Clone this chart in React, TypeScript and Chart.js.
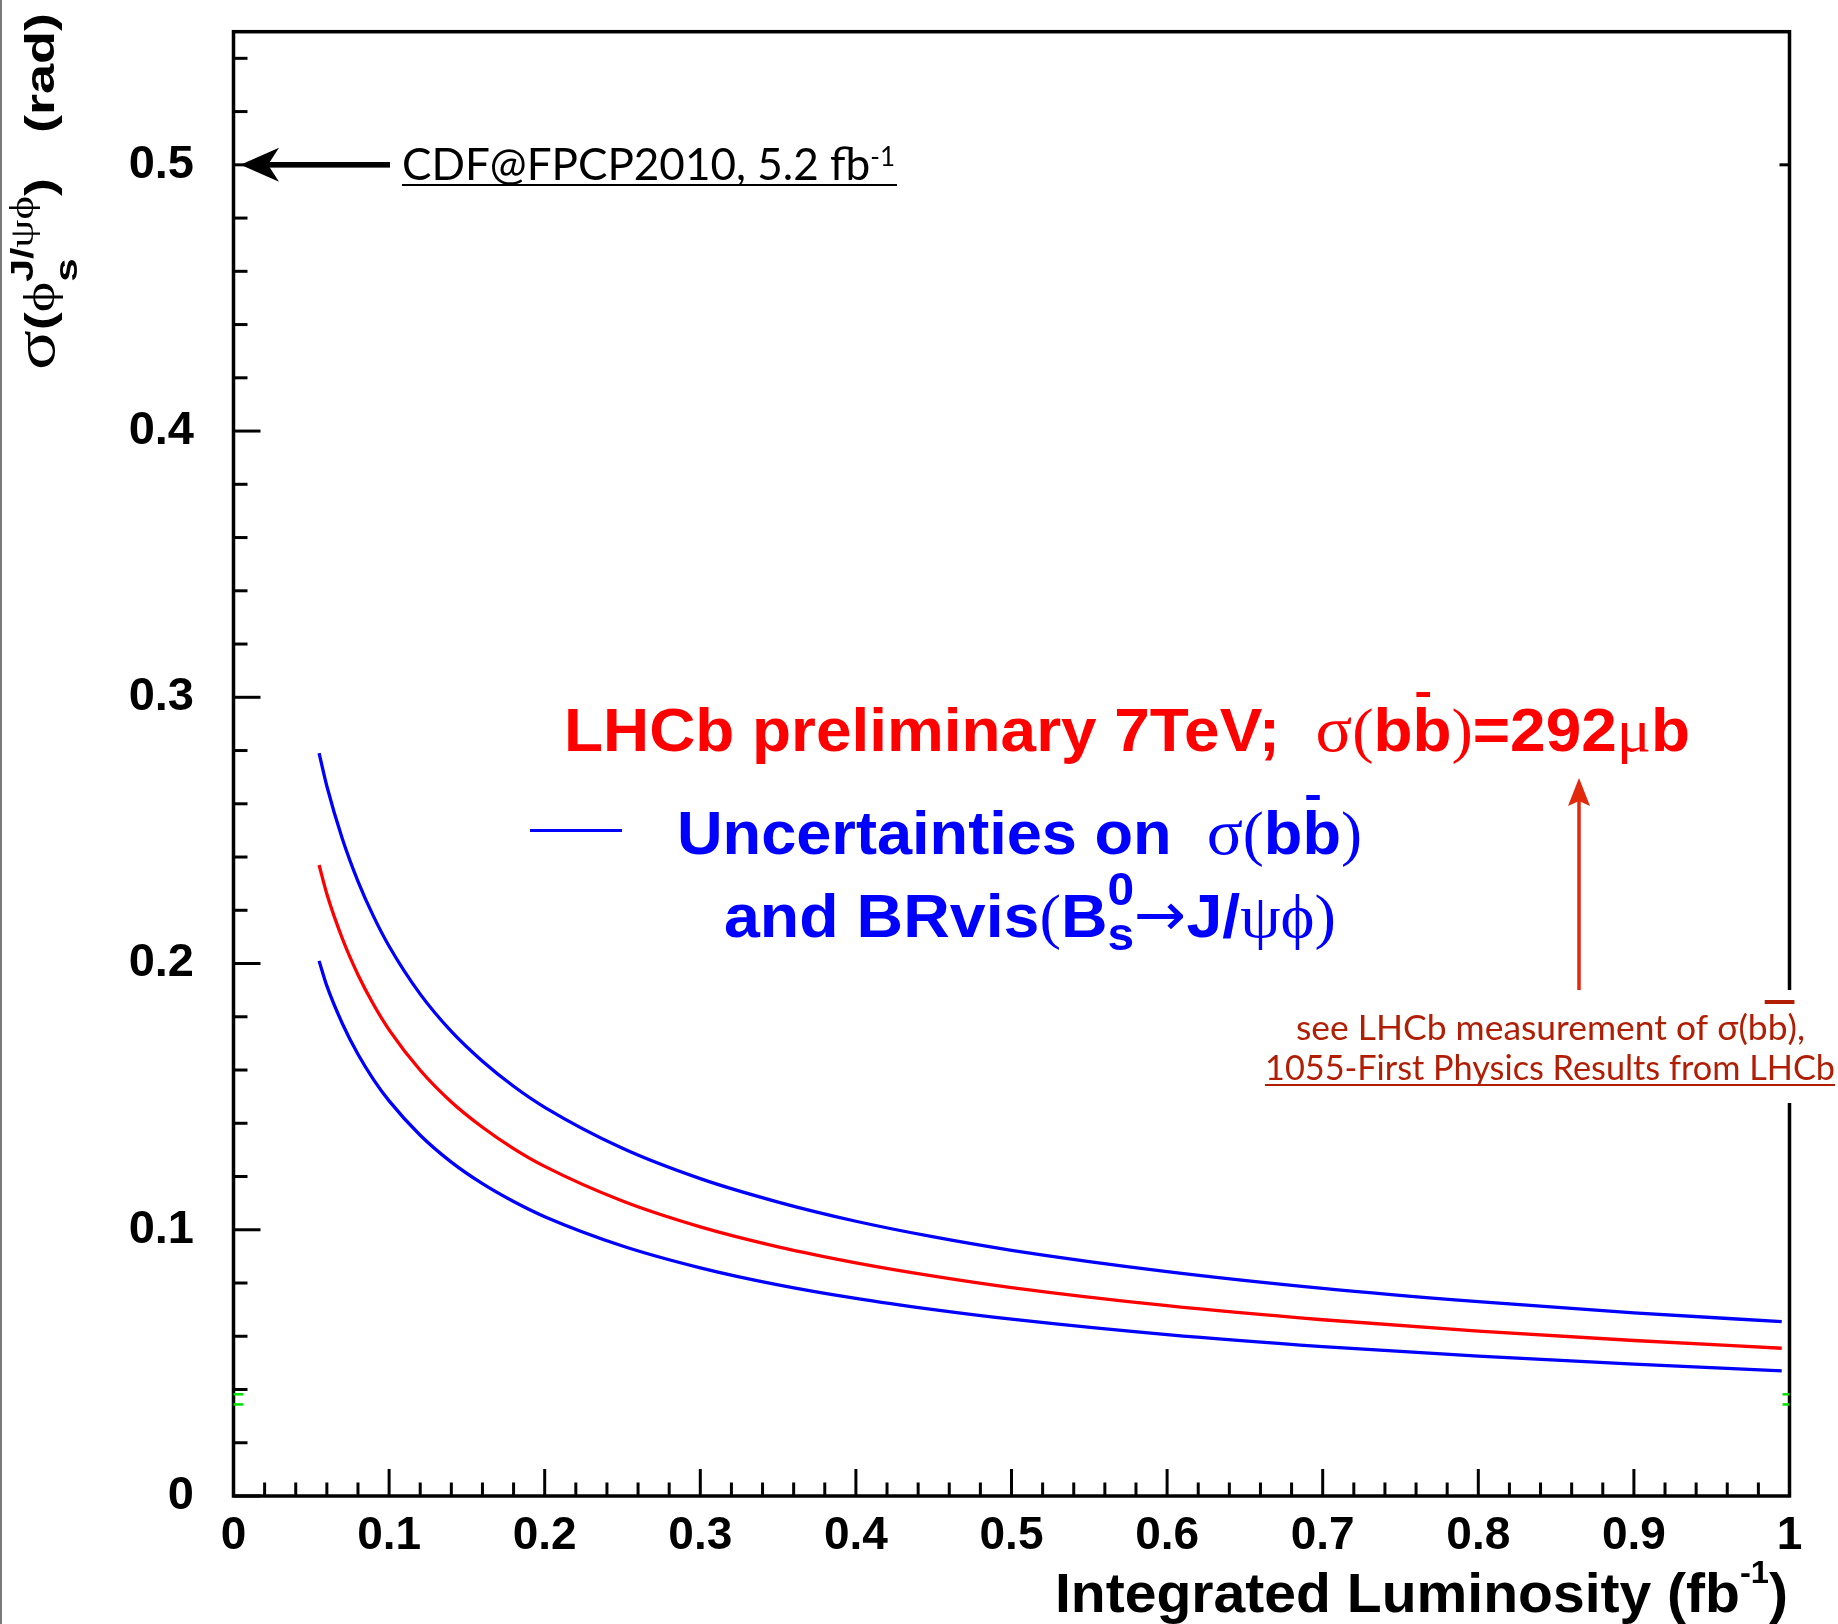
import React, { useEffect, useRef } from "react";
import { Chart, registerables } from "chart.js";

Chart.register(...registerables);

// ---------- data ----------
const luminosity = [0.055, 0.06, 0.07, 0.08, 0.09, 0.1, 0.12, 0.14, 0.16, 0.18, 0.2, 0.25, 0.3, 0.35, 0.4, 0.45, 0.5, 0.6, 0.7, 0.8, 0.9, 0.995];
const sigmaUpper = [0.279, 0.2666, 0.2468, 0.2309, 0.2177, 0.2065, 0.1885, 0.1745, 0.1633, 0.1539, 0.146, 0.1306, 0.1192, 0.1104, 0.1032, 0.0973, 0.0923, 0.0843, 0.078, 0.073, 0.0688, 0.0655];
const sigmaCentral = [0.237, 0.2261, 0.2093, 0.1958, 0.1846, 0.1751, 0.1599, 0.148, 0.1385, 0.1305, 0.1238, 0.1108, 0.1011, 0.0936, 0.0876, 0.0826, 0.0783, 0.0715, 0.0662, 0.0619, 0.0584, 0.0555];
const sigmaLower = [0.201, 0.1916, 0.1774, 0.1659, 0.1564, 0.1484, 0.1355, 0.1254, 0.1173, 0.1106, 0.1049, 0.0939, 0.0857, 0.0793, 0.0742, 0.07, 0.0664, 0.0606, 0.0561, 0.0525, 0.0495, 0.047];

const xTickValues = [0, 0.1, 0.2, 0.3, 0.4, 0.5, 0.6, 0.7, 0.8, 0.9, 1];
const xTickLabels = ["0", "0.1", "0.2", "0.3", "0.4", "0.5", "0.6", "0.7", "0.8", "0.9", "1"];
const yTickValues = [0, 0.1, 0.2, 0.3, 0.4, 0.5];
const yTickLabels = ["0", "0.1", "0.2", "0.3", "0.4", "0.5"];
const minorStep = 0.02;

const cdfValue = 0.5; // CDF@FPCP2010 marker
const greenLevels = [0.0382, 0.0344];

// ---------- fonts / colours ----------
const SANS_B = (s: number) => `bold ${s}px 'Liberation Sans', Arial, sans-serif`;
const SERIF = (s: number) => `${s}px 'Liberation Serif', 'DejaVu Serif', serif`;
const DSANS = (s: number) => `${s}px 'DejaVu Sans', sans-serif`;
const GILL = (s: number) => `${s}px Lato, 'Open Sans', sans-serif`;
const RED = "#ff0000";
const BLUE = "#0000ff";
const NOTE = "#b11e04";
const ARROW_RED = "#e2290b";

type Seg = { t: string; f: string; dy?: number; stack?: boolean; bar?: { dy: number; h: number; from: number; to: number } };

function drawRich(ctx: CanvasRenderingContext2D, segs: Seg[], x0: number, y0: number, fitW: number | null, color: string, rotate = false) {
  let cur = 0;
  let lastStart = 0;
  const items: { s: Seg; x: number; w: number }[] = [];
  for (const s of segs) {
    ctx.font = s.f;
    const w = ctx.measureText(s.t).width;
    let x: number;
    if (s.stack) {
      x = lastStart;
      cur = Math.max(cur, x + w);
    } else {
      x = cur;
      lastStart = x;
      cur = x + w;
    }
    items.push({ s, x, w });
  }
  const sx = fitW ? fitW / cur : 1;
  ctx.save();
  ctx.translate(x0, y0);
  if (rotate) ctx.rotate(-Math.PI / 2);
  ctx.scale(sx, 1);
  ctx.fillStyle = color;
  ctx.textBaseline = "alphabetic";
  ctx.textAlign = "left";
  for (const it of items) {
    ctx.font = it.s.f;
    ctx.fillText(it.s.t, it.x, it.s.dy || 0);
    if (it.s.bar) {
      const b = it.s.bar;
      ctx.fillRect(it.x + it.w * b.from, b.dy, it.w * (b.to - b.from), b.h);
    }
  }
  ctx.restore();
  return cur * sx;
}

const overlay = {
  id: "overlay",
  beforeDraw(chart: any) {
    const ctx = chart.ctx as CanvasRenderingContext2D;
    ctx.save();
    ctx.fillStyle = "#ffffff";
    ctx.fillRect(0, 0, chart.width, chart.height);
    ctx.restore();
  },
  afterDraw(chart: any) {
    const ctx = chart.ctx as CanvasRenderingContext2D;
    const { left, right, top, bottom } = chart.chartArea;
    const xs = chart.scales.x;
    const ys = chart.scales.y;
    ctx.save();

    // page edge
    ctx.fillStyle = "#7a7a7a";
    ctx.fillRect(0, 0, 2, chart.height);

    const line = (x1: number, y1: number, x2: number, y2: number) => {
      ctx.beginPath();
      ctx.moveTo(x1, y1);
      ctx.lineTo(x2, y2);
      ctx.stroke();
    };

    // ticks
    ctx.strokeStyle = "#000";
    ctx.lineWidth = 3;
    ctx.lineCap = "butt";
    const nx = Math.round((xs.max - xs.min) / minorStep);
    for (let i = 0; i <= nx; i++) {
      const px = xs.getPixelForValue(xs.min + i * minorStep);
      line(px, bottom, px, bottom - (i % 5 === 0 ? 27 : 13.5));
    }
    const ny = Math.floor((ys.max - ys.min) / minorStep + 1e-6);
    for (let i = 0; i <= ny; i++) {
      const py = ys.getPixelForValue(ys.min + i * minorStep);
      line(left, py, left + (i % 5 === 0 ? 27 : 14), py);
    }

    // frame
    ctx.lineWidth = 3.5;
    ctx.strokeRect(left, top, right - left, bottom - top);

    // green marks
    ctx.strokeStyle = "#00e000";
    ctx.lineWidth = 2.5;
    for (const g of greenLevels) {
      const py = ys.getPixelForValue(g);
      line(left, py, left + 10, py);
      line(right - 7, py, right, py);
    }

    // CDF marker
    const yc = ys.getPixelForValue(cdfValue);
    ctx.strokeStyle = "#000";
    ctx.lineWidth = 3;
    line(right - 10, yc, right, yc);
    ctx.fillStyle = "#000";
    ctx.fillRect(262, yc - 2.8, 128, 5.6);
    ctx.beginPath();
    ctx.moveTo(left + 7, yc);
    ctx.lineTo(279, yc - 17);
    ctx.lineTo(268, yc);
    ctx.lineTo(279, yc + 17);
    ctx.closePath();
    ctx.fill();
    const cdfW = drawRich(ctx, [
      { t: "CDF@FPCP2010, 5.2 fb", f: GILL(44) },
      { t: "-1", f: GILL(26), dy: -14 },
    ], 402, 180, 493, "#000");
    ctx.fillRect(402, 184, cdfW + 2, 2);

    // LHCb title
    drawRich(ctx, [
      { t: "LHCb preliminary 7TeV;", f: SANS_B(62) },
      { t: "  ", f: SANS_B(62) },
      { t: "σ", f: SERIF(66) },
      { t: "(", f: SERIF(62) },
      { t: "b", f: SANS_B(62) },
      { t: "b", f: SANS_B(62), bar: { dy: -59, h: 5, from: 0.1, to: 0.45 } },
      { t: ")", f: SERIF(62) },
      { t: "=292", f: SANS_B(62) },
      { t: "μ", f: SERIF(62) },
      { t: "b", f: SANS_B(62) },
    ], 564, 751, 1126, RED);

    // legend entry
    ctx.strokeStyle = BLUE;
    ctx.lineWidth = 3;
    line(530, 830.5, 622, 830.5);
    drawRich(ctx, [
      { t: "Uncertainties on", f: SANS_B(62) },
      { t: "  ", f: SANS_B(62) },
      { t: "σ", f: SERIF(66) },
      { t: "(", f: SERIF(62) },
      { t: "b", f: SANS_B(62) },
      { t: "b", f: SANS_B(62), bar: { dy: -59, h: 5, from: 0.1, to: 0.45 } },
      { t: ")", f: SERIF(62) },
    ], 677, 854, 685, BLUE);
    drawRich(ctx, [
      { t: "and BRvis", f: SANS_B(62) },
      { t: "(", f: SERIF(62) },
      { t: "B", f: SANS_B(62) },
      { t: "s", f: SANS_B(46), dy: 13 },
      { t: "0", f: SANS_B(46), dy: -32, stack: true },
      { t: "→", f: DSANS(60), dy: -2 },
      { t: "J/", f: SANS_B(62) },
      { t: "ψϕ", f: SERIF(62) },
      { t: ")", f: SERIF(62) },
    ], 724, 937, 612, BLUE);

    // red arrow
    ctx.strokeStyle = ARROW_RED;
    ctx.fillStyle = ARROW_RED;
    ctx.lineWidth = 3.5;
    line(1579, 990, 1579, 800);
    ctx.beginPath();
    ctx.moveTo(1579, 778);
    ctx.lineTo(1568, 806);
    ctx.lineTo(1579, 801);
    ctx.lineTo(1590, 806);
    ctx.closePath();
    ctx.fill();

    // note box
    ctx.fillStyle = "#ffffff";
    ctx.fillRect(1258, 990, 580, 113);
    drawRich(ctx, [
      { t: "see LHCb measurement of σ(b", f: GILL(35) },
      { t: "b", f: GILL(35), bar: { dy: -40, h: 4, from: -0.15, to: 1.35 } },
      { t: "),", f: GILL(35) },
    ], 1296, 1040, 509, NOTE);
    const nW = drawRich(ctx, [
      { t: "1055-First Physics Results from LHCb", f: GILL(35) },
    ], 1265, 1080, 570, NOTE);
    ctx.fillStyle = NOTE;
    ctx.fillRect(1265, 1084, nW, 2);

    // axis titles
    drawRich(ctx, [
      { t: "Integrated Luminosity (fb", f: SANS_B(56) },
      { t: "-1", f: SANS_B(32), dy: -29 },
      { t: ")", f: SANS_B(56) },
    ], 1055, 1612, 733, "#000");

    drawRich(ctx, [
      { t: "σ", f: SERIF(56) },
      { t: "(", f: SANS_B(41) },
      { t: "ϕ", f: SERIF(44) },
      { t: "s", f: SANS_B(32), dy: 23 },
      { t: "J/", f: SANS_B(31), dy: -21, stack: true },
      { t: "ψϕ", f: SERIF(34), dy: -21 },
      { t: ")", f: SANS_B(41) },
      { t: "   ", f: SANS_B(41) },
      { t: "(rad)", f: SANS_B(41) },
    ], 54, 370, 357, "#000", true);

    ctx.restore();
  },
};

export default function App() {
  const ref = useRef<HTMLCanvasElement>(null);
  useEffect(() => {
    document.body.style.margin = "0";
    const mk = (ys: number[]) => luminosity.map((x, i) => ({ x, y: ys[i] }));
    const common = { pointRadius: 0, borderWidth: 3.3, fill: false, cubicInterpolationMode: "monotone" as const };
    const chart = new Chart(ref.current!, {
      type: "line",
      data: {
        datasets: [
          { label: "upper", data: mk(sigmaUpper), borderColor: BLUE, ...common },
          { label: "central", data: mk(sigmaCentral), borderColor: RED, ...common },
          { label: "lower", data: mk(sigmaLower), borderColor: BLUE, ...common },
        ],
      },
      options: {
        responsive: false,
        devicePixelRatio: 1,
        animation: false,
        events: [],
        layout: { padding: { left: 0, top: 31.7, right: 48.5, bottom: 0 } },
        plugins: { legend: { display: false }, tooltip: { enabled: false }, title: { display: false } },
        scales: {
          x: {
            type: "linear",
            min: 0,
            max: 1,
            grid: { display: false, drawTicks: false },
            border: { display: false },
            afterBuildTicks: (s: any) => { s.ticks = xTickValues.map((v) => ({ value: v })); },
            afterFit: (s: any) => { s.height = 128; s.paddingLeft = 0; s.paddingRight = 0; },
            ticks: {
              autoSkip: false,
              maxRotation: 0,
              padding: 17,
              color: "#000",
              font: { family: "'Liberation Sans', Arial, sans-serif", size: 46, weight: "bold", lineHeight: 1 },
              callback: (v: any) => { const i = xTickValues.findIndex((t) => Math.abs(t - Number(v)) < 1e-9); return i >= 0 ? xTickLabels[i] : ""; },
            },
          },
          y: {
            type: "linear",
            min: 0,
            max: 0.55,
            grid: { display: false, drawTicks: false },
            border: { display: false },
            afterBuildTicks: (s: any) => { s.ticks = yTickValues.map((v) => ({ value: v })); },
            afterFit: (s: any) => { s.width = 233.5; s.paddingTop = 0; s.paddingBottom = 0; },
            ticks: {
              autoSkip: false,
              padding: 39.5,
              color: "#000",
              font: { family: "'Liberation Sans', Arial, sans-serif", size: 47, weight: "bold", lineHeight: 1 },
              callback: (v: any) => { const i = yTickValues.findIndex((t) => Math.abs(t - Number(v)) < 1e-9); return i >= 0 ? yTickLabels[i] : ""; },
            },
          },
        },
      },
      plugins: [overlay],
    });
    return () => chart.destroy();
  }, []);
  return (
    <div style={{ position: "absolute", left: 0, top: 0, width: 1838, height: 1624, background: "#fff" }}>
      <canvas ref={ref} width={1838} height={1624} style={{ display: "block", width: 1838, height: 1624 }} />
    </div>
  );
}
